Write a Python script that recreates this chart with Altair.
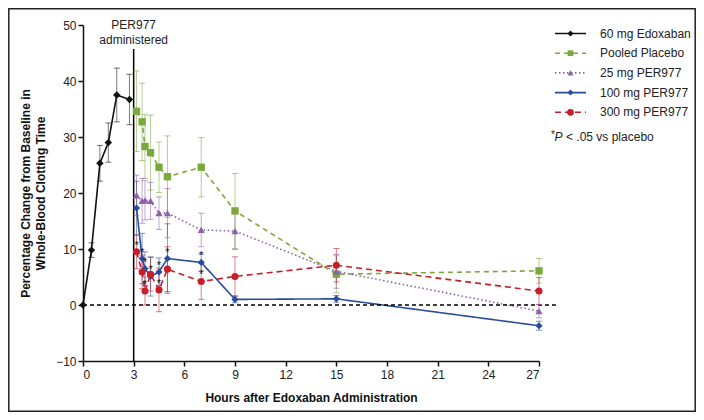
import altair as alt
import pandas as pd

# ---------------- data ----------------
series_names = ["60 mg Edoxaban", "Pooled Placebo", "25 mg PER977", "100 mg PER977", "300 mg PER977"]
series_colors = ["#111111", "#7aa83a", "#8e5fab", "#2a4c9f", "#c81e2a"]
series_shapes = ["diamond", "square", "triangle-up", "diamond", "circle"]
series_dashes = [[1, 0], [5, 4], [1.5, 2.5], [1, 0], [6, 4]]
series_sizes = [55, 50, 55, 55, 72]

edox_t = [0, 0.5, 1, 1.5, 2, 2.75]
edox_v = [0, 9.8, 25.3, 29.0, 37.5, 36.7]
edox_e = [0, 1.3, 3.2, 3.5, 4.8, 4.5]

per_t = [3.17, 3.5, 3.67, 4, 4.5, 5, 7, 9, 15, 27]
placebo_v = [34.6, 32.7, 28.3, 27.2, 24.6, 22.9, 24.6, 16.8, 5.5, 6.1]
placebo_e = [7.2, 6.9, 5.7, 6.7, 4.5, 7.3, 5.3, 6.7, 3.3, 2.2]
p25_v = [19.6, 18.6, 18.7, 18.6, 16.4, 16.4, 13.4, 13.2, 6.0, -1.1]
p25_e = [3.6, 4.0, 3.5, 3.3, 2.9, 4.4, 3.0, 3.3, 3.0, 1.2]
p100_v = [17.3, 8.3, 6.5, 5.1, 5.9, 8.3, 7.6, 1.0, 1.1, -3.7]
p100_e = [4.8, 4.5, 3.0, 3.5, 2.5, 6.2, 1.5, 0.6, 0.6, 0.8]
p300_v = [9.5, 5.9, 2.5, 5.5, 2.7, 6.4, 4.2, 5.1, 7.1, 2.5]
p300_e = [3.0, 3.0, 2.5, 3.0, 3.9, 4.0, 3.2, 3.5, 3.0, 2.4]

# significance stars (series, time)
star_series = ["100 mg PER977"] * 6 + ["300 mg PER977"] * 4
star_times = [3.5, 3.67, 4, 4.5, 5, 7, 3.17, 3.67, 4.5, 7]

x_ticks = [0, 3, 6, 9, 12, 15, 18, 21, 24, 27]
y_ticks = [-10, 0, 10, 20, 30, 40, 50]

# ---------------- tables ----------------
rows = []
for t, v, e in zip(edox_t, edox_v, edox_e):
    rows.append(dict(series=series_names[0], t=t, v=v, e=e))
for name, vals, errs in [(series_names[1], placebo_v, placebo_e),
                         (series_names[2], p25_v, p25_e),
                         (series_names[3], p100_v, p100_e),
                         (series_names[4], p300_v, p300_e)]:
    for t, v, e in zip(per_t, vals, errs):
        rows.append(dict(series=name, t=t, v=v, e=e))
df = pd.DataFrame(rows)
df["lo"] = df["v"] - df["e"]
df["hi"] = df["v"] + df["e"]

lookup = {(r.series, r.t): r.v for r in df.itertuples()}
stars = pd.DataFrame({"series": star_series, "t": star_times})
stars["v"] = [lookup[(s, t)] for s, t in zip(star_series, star_times)]

FONT = "Liberation Sans"
xs = alt.Scale(domain=[0, 27], nice=False)
ys = alt.Scale(domain=[-10, 50], nice=False)
color = alt.Color("series:N", scale=alt.Scale(domain=series_names, range=series_colors), legend=None)

XA = alt.Axis(values=x_ticks, title="Hours after Edoxaban Administration",
              grid=False, tickSize=5, labelPadding=3, titlePadding=12)
YA = alt.Axis(values=y_ticks, title=["Percentage Change from Baseline in", "Whole-Blood Clotting Time"],
              grid=False, tickSize=5, labelPadding=2, titleX=-51, titleY=168, titleLineHeight=15)


def XN(f):
    return alt.X(f, scale=xs, axis=XA)


def YN(f):
    return alt.Y(f, scale=ys, axis=YA)


base = alt.Chart(df)

lines = base.mark_line(strokeWidth=1.6).encode(
    x=XN("t:Q"), y=YN("v:Q"), color=color,
    strokeDash=alt.StrokeDash("series:N", scale=alt.Scale(domain=series_names, range=series_dashes), legend=None),
    detail="series:N", order="t:Q")

err_rule = base.mark_rule(strokeWidth=1, opacity=0.55).encode(
    x=XN("t:Q"), y=YN("lo:Q"), y2="hi:Q", color=color)
err_lo = base.mark_tick(orient="horizontal", size=6, thickness=1, opacity=0.6).encode(
    x=XN("t:Q"), y=YN("lo:Q"), color=color)
err_hi = base.mark_tick(orient="horizontal", size=6, thickness=1, opacity=0.6).encode(
    x=XN("t:Q"), y=YN("hi:Q"), color=color)

points = base.mark_point(filled=True, opacity=1, strokeWidth=0).encode(
    x=XN("t:Q"), y=YN("v:Q"), color=color,
    shape=alt.Shape("series:N", scale=alt.Scale(domain=series_names, range=series_shapes), legend=None),
    size=alt.Size("series:N", scale=alt.Scale(domain=series_names, range=series_sizes), legend=None))

star_marks = alt.Chart(stars).mark_text(text="*", fontSize=11, font=FONT, color="#111", dy=-6, baseline="middle").encode(
    x=XN("t:Q"), y=YN("v:Q"))

zero = alt.Chart(pd.DataFrame({"t": [0], "t1": [28], "v": [0]})).mark_rule(
    color="black", strokeWidth=1.5, strokeDash=[4, 3]).encode(
    x=XN("t:Q"), x2="t1:Q", y=YN("v:Q"))

admin = alt.Chart(pd.DataFrame({"t": [3], "v": [-10], "v1": [45.7]})).mark_rule(
    color="black", strokeWidth=1.5).encode(
    x=XN("t:Q"), y=YN("v:Q"), y2="v1:Q")

admin_lbl = alt.Chart(pd.DataFrame({"t": [3], "txt": ["PER977"]})).mark_text(
    font=FONT, fontSize=12, color="#222", align="center", baseline="middle").encode(
    x=XN("t:Q"), y=alt.value(0), text="txt:N")
admin_lbl2 = alt.Chart(pd.DataFrame({"t": [3], "txt": ["administered"]})).mark_text(
    font=FONT, fontSize=12, color="#222", align="center", baseline="middle").encode(
    x=XN("t:Q"), y=alt.value(15), text="txt:N")

# ---------------- legend (manual) ----------------
leg_layers = []
leg_y0 = 8.5
leg_dy = 19.7
for i, name in enumerate(series_names):
    yy = leg_y0 + i * leg_dy
    d = pd.DataFrame({"name": [name]})
    c = alt.Chart(d)
    leg_layers.append(c.mark_rule(color=series_colors[i], strokeWidth=1.6, strokeDash=series_dashes[i]).encode(
        x=alt.value(472), x2=alt.value(503), y=alt.value(yy)))
    leg_layers.append(c.mark_point(filled=True, opacity=1, strokeWidth=0, color=series_colors[i],
                                   shape=series_shapes[i], size=series_sizes[i] * 0.65).encode(
        x=alt.value(487.5), y=alt.value(yy)))
    leg_layers.append(c.mark_text(font=FONT, fontSize=12, color="#222", align="left", baseline="middle").encode(
        x=alt.value(517), y=alt.value(yy), text="name:N"))

foot = pd.DataFrame({"a": ["*"], "b": ["P"], "c": ["< .05 vs placebo"]})
fc = alt.Chart(foot)
leg_layers.append(fc.mark_text(font=FONT, fontSize=10, color="#222", align="left", baseline="middle").encode(
    x=alt.value(468), y=alt.value(110), text="a:N"))
leg_layers.append(fc.mark_text(font=FONT, fontSize=12, fontStyle="italic", color="#222", align="left", baseline="middle").encode(
    x=alt.value(471.5), y=alt.value(112), text="b:N"))
leg_layers.append(fc.mark_text(font=FONT, fontSize=12, color="#222", align="left", baseline="middle").encode(
    x=alt.value(483), y=alt.value(112), text="c:N"))

frame = alt.Chart(pd.DataFrame({"k": [0]})).mark_rect(
    fill="transparent", stroke="#222", strokeWidth=1.5).encode(
    x=alt.value(-74.2), x2=alt.value(612.2), y=alt.value(-16.2), y2=alt.value(386.2))

chart = alt.layer(
    lines, zero, admin, err_rule, err_lo, err_hi, points, star_marks, admin_lbl, admin_lbl2, *leg_layers, frame
).properties(
    width=456, height=336,
    padding={"left": 75, "top": 17, "right": 157, "bottom": 51},
    autosize=alt.AutoSizeParams(type="none"),
).configure_view(stroke="transparent").configure_axis(
    labelFont=FONT, titleFont=FONT, labelFontSize=12, titleFontSize=12, titleFontWeight="bold",
    labelColor="#222", titleColor="#111", domainColor="#111", tickColor="#111", domainWidth=1.5, tickWidth=1.5
)

chart.save("out.html", embed_options={"renderer": "svg", "actions": False})
